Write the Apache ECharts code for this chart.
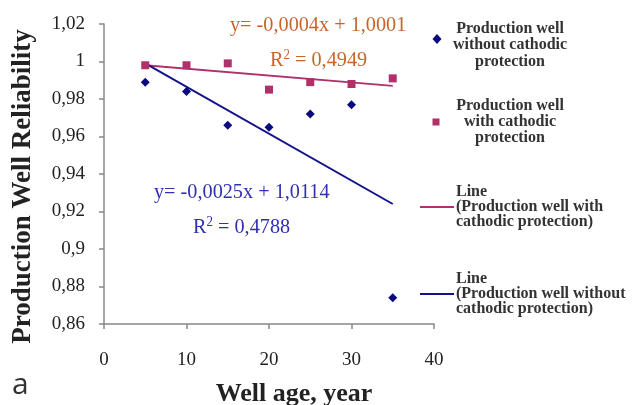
<!DOCTYPE html>
<html>
<head>
<meta charset="utf-8">
<script src="https://cdn.jsdelivr.net/npm/echarts@6/dist/echarts.min.js"></script>
<style>html,body{margin:0;padding:0;background:#fff}#c{width:635px;height:405px}</style>
</head>
<body>
<div id="c"></div>
<script>
var ages = [5, 10, 15, 20, 25, 30, 35];
var withoutCP = [0.989, 0.984, 0.966, 0.965, 0.972, 0.977, 0.874];
var withCP = [0.998, 0.998, 0.999, 0.985, 0.989, 0.988, 0.991];
var trendX = [5, 35];
var trendWith = [0.998, 0.987];
var trendWithout = [0.999, 0.924];
var seriesNames = [
  'Production well without cathodic protection',
  'Production well with cathodic protection',
  'Line (Production well with cathodic protection)',
  'Line (Production well without cathodic protection)'
];

function pairs(xs, ys) { return xs.map(function (x, i) { return [x, ys[i]]; }); }

var NAVY = '#0a0a80', PINK = '#b0306a', BLUE_LINE = '#12128a', ORANGE = '#c8642a', BLUE_TXT = '#3030b0';
var SERIF = '"Liberation Serif", "Times New Roman", serif';
var legendFont = 'bold 16px ' + SERIF;

function eqText(x, y, txt, color) {
  return {type: 'text', x: x, y: y, scaleX: 0.92, style: {text: txt, font: '22px ' + SERIF, fill: color, verticalAlign: 'middle'}};
}
function r2Text(x, y, val, color) {
  return {type: 'text', x: x, y: y, scaleX: 0.92, style: {
    text: '{a|R}{s|2}{a| = ' + val + '}', fill: color, verticalAlign: 'middle',
    rich: {a: {font: '22px ' + SERIF, fill: color, verticalAlign: 'bottom'},
           s: {font: '14px ' + SERIF, fill: color, verticalAlign: 'top', padding: [0, 0, 9, 0]}}}};
}

var chart = echarts.init(document.getElementById('c'), null, {renderer: 'canvas'});
chart.setOption({
  animation: false,
  backgroundColor: '#fff',
  grid: {left: 104, right: 201, top: 24, bottom: 81, containLabel: false, outerBoundsMode: 'none'},
  xAxis: {
    type: 'value', min: 0, max: 40, interval: 10,
    name: 'Well age, year', nameLocation: 'middle', nameGap: 57,
    nameTextStyle: {fontFamily: SERIF, fontWeight: 'bold', fontSize: 26, color: '#222', padding: [0, 0, 0, 50]},
    axisLine: {lineStyle: {color: '#888', width: 1.5}},
    axisTick: {show: true, length: 5, lineStyle: {color: '#888', width: 1.5}},
    axisLabel: {fontFamily: SERIF, fontSize: 19, color: '#222', margin: 27},
    splitLine: {show: false}
  },
  yAxis: {
    type: 'value', min: 0.86, max: 1.02, interval: 0.02,
    name: 'Production Well Reliability', nameLocation: 'middle', nameGap: 67, nameRotate: 90,
    nameTextStyle: {fontFamily: SERIF, fontWeight: 'bold', fontSize: 27, color: '#222', padding: [0, 25, 0, 0]},
    axisLine: {show: true, lineStyle: {color: '#888', width: 1.5}},
    axisTick: {show: true, length: 5, lineStyle: {color: '#888', width: 1.5}},
    axisLabel: {fontFamily: SERIF, fontSize: 19, color: '#222', margin: 19,
      formatter: function (v) { return String(+v.toFixed(2)).replace('.', ','); }},
    splitLine: {show: false}
  },
  series: [
    {name: seriesNames[0], type: 'scatter', symbol: 'diamond', symbolSize: 9,
     itemStyle: {color: NAVY, opacity: 1}, data: pairs(ages, withoutCP), z: 5},
    {name: seriesNames[1], type: 'scatter', symbol: 'rect', symbolSize: 8,
     itemStyle: {color: PINK, opacity: 1}, data: pairs(ages, withCP), z: 5},
    {name: seriesNames[2], type: 'line', symbol: 'none', lineStyle: {color: PINK, width: 2},
     data: pairs(trendX, trendWith), z: 3},
    {name: seriesNames[3], type: 'line', symbol: 'none', lineStyle: {color: BLUE_LINE, width: 2},
     data: pairs(trendX, trendWithout), z: 3}
  ],
  graphic: [
    eqText(230, 25, 'y= -0,0004x + 1,0001', ORANGE),
    r2Text(270, 60, '0,4949', ORANGE),
    eqText(154, 192, 'y= -0,0025x + 1,0114', BLUE_TXT),
    r2Text(193, 227, '0,4788', BLUE_TXT),
    {type: 'text', left: 12, top: 370, style: {text: 'a', font: '30px "Open Sans", sans-serif', fill: '#333'}},
    // legend
    {type: 'polygon', shape: {points: [[437, 34], [441.5, 39], [437, 44], [432.5, 39]]}, style: {fill: NAVY}},
    {type: 'text', x: 510, y: 45, style: {text: 'Production well\nwithout cathodic\nprotection', font: legendFont, fill: '#333', align: 'center', verticalAlign: 'middle', lineHeight: 16.5}},
    {type: 'rect', shape: {x: 432.5, y: 118.5, width: 7, height: 7}, style: {fill: PINK}},
    {type: 'text', x: 510, y: 122, style: {text: 'Production well\nwith cathodic\nprotection', font: legendFont, fill: '#333', align: 'center', verticalAlign: 'middle', lineHeight: 16}},
    {type: 'line', shape: {x1: 420, y1: 207, x2: 454, y2: 207}, style: {stroke: PINK, lineWidth: 2}},
    {type: 'text', x: 456, y: 207, style: {text: 'Line\n(Production well with\ncathodic protection)', font: legendFont, fill: '#333', align: 'left', verticalAlign: 'middle', lineHeight: 15}},
    {type: 'line', shape: {x1: 420, y1: 294, x2: 454, y2: 294}, style: {stroke: BLUE_LINE, lineWidth: 2}},
    {type: 'text', x: 456, y: 294, style: {text: 'Line\n(Production well without\ncathodic protection)', font: legendFont, fill: '#333', align: 'left', verticalAlign: 'middle', lineHeight: 15}}
  ]
});
</script>
</body>
</html>
